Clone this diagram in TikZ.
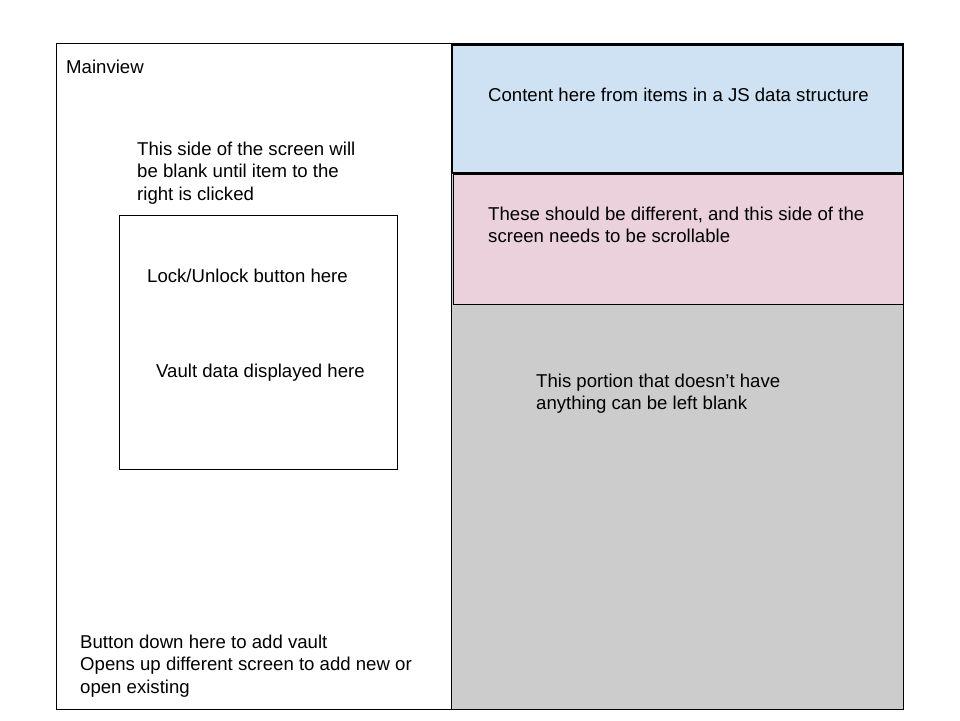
\documentclass[tikz,border=0pt]{standalone}
\usepackage{fontspec}
\setmainfont{Liberation Sans}
\definecolor{blueF}{HTML}{CFE2F3}
\definecolor{pinkF}{HTML}{EAD1DC}
\definecolor{grayF}{HTML}{CCCCCC}
\begin{document}
\begin{tikzpicture}[x=1pt,y=-1pt,
  lbl/.style={anchor=base west,inner sep=0pt,align=left,font=\fontsize{18.6}{22.5}\selectfont,text=black},
  panel/.style={draw=black,line width=1pt}]
\useasboundingbox (0,0) rectangle (960,720);
\fill[white] (0,0) rectangle (960,720);
% left main view
\draw[panel,fill=white] (56,43) rectangle (451,709);
% right panel
\draw[panel,fill=grayF] (451,43) rectangle (903,709);
\draw[panel,fill=blueF,line width=1.3pt] (452,45) rectangle (903,173);
\draw[panel,fill=pinkF] (453,174) rectangle (903,304);
% inner box
\draw[panel] (119,215) rectangle (397,469);
% texts (base = baseline of last line)
\node[lbl] (mv) at (66,73) {Mainview};
\node[lbl] (side) at (137,200) {This side of the screen will\\be blank until item to the\\right is clicked};
\node[lbl] (lock) at (147,282) {Lock/Unlock button here};
\node[lbl] (vault) at (156,377) {Vault data displayed here};
\node[lbl] (content) at (488,101) {Content here from items in a JS data structure};
\node[lbl] (diff) at (488,242.5) {These should be different, and this side of the\\screen needs to be scrollable};
\node[lbl] (portion) at (536,409.5) {This portion that doesn’t have\\anything can be left blank};
\node[lbl] (btn) at (80,693) {Button down here to add vault\\Opens up different screen to add new or\\open existing};
\end{tikzpicture}
\end{document}
